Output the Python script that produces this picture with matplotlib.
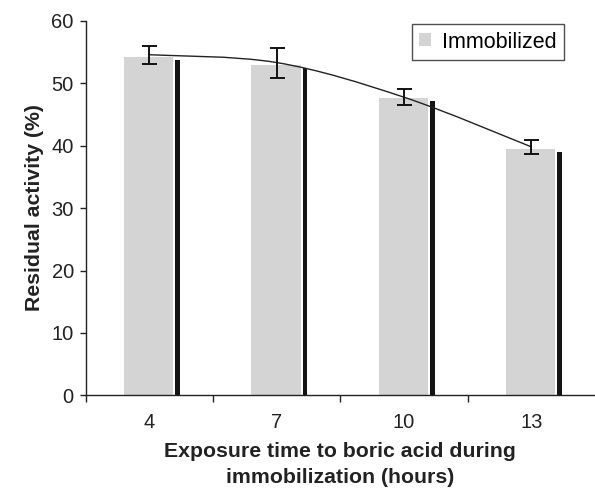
import numpy as np
import matplotlib.pyplot as plt
from matplotlib.path import Path
from matplotlib.patches import PathPatch, Patch

plt.rcParams['font.family'] = ['Liberation Sans', 'DejaVu Sans']

# Exposure times (hours) and measured activities
hours = ['4', '7', '10', '13']
immobilized = [54.2, 52.9, 47.6, 39.4]
dark_series = [53.7, 52.4, 47.1, 38.9]
mean_activity = [54.55, 53.3, 47.75, 39.8]
err_activity = [1.45, 2.4, 1.25, 1.1]

fig = plt.figure(figsize=(5.95, 4.91), dpi=100)
ax = fig.add_axes([85.6 / 595, 95.6 / 491, 1 - 85.6 / 595, (395.4 - 20.7) / 491])

x = np.arange(len(hours))
ax.bar(x - 0.005, immobilized, width=0.385, color='#d3d4d3', edgecolor='none', zorder=2)
ax.bar(x + 0.222, dark_series, width=0.037, color='#141414', edgecolor='none', zorder=2)

# smoothed line through the means (Catmull-Rom as cubic Bezier segments)
pts = np.column_stack([x, mean_activity]).astype(float)
ext = np.vstack([pts[0], pts, pts[-1]])
verts = [tuple(pts[0])]
codes = [Path.MOVETO]
for i in range(len(pts) - 1):
    p0, p1, p2, p3 = ext[i], ext[i + 1], ext[i + 2], ext[i + 3]
    verts += [tuple(p1 + (p2 - p0) / 6), tuple(p2 - (p3 - p1) / 6), tuple(p2)]
    codes += [Path.CURVE4] * 3
ax.add_patch(PathPatch(Path(verts, codes), facecolor='none', edgecolor='#222222',
                       lw=1.0, zorder=3))

ax.errorbar(x, mean_activity, yerr=err_activity, fmt='none', ecolor='#111111',
            elinewidth=1.4, capsize=5.4, capthick=1.4, zorder=4)

ax.set_xlim(-0.5, 3.5)
ax.set_ylim(0, 60)
ax.set_yticks(range(0, 61, 10))
ax.set_xticks([-0.5, 0.5, 1.5, 2.5])
ax.set_xticklabels([])
ax.set_xticks(x, minor=True)
ax.set_xticklabels(hours, minor=True)
ax.tick_params(axis='x', which='major', direction='out', length=5, width=1, color='#222222')
ax.tick_params(axis='x', which='minor', length=0, pad=13, labelsize=14.5, labelcolor='#222222')
ax.tick_params(axis='y', direction='out', length=4.5, width=1, pad=4, labelsize=14.5,
               color='#222222', labelcolor='#222222')

for side in ['top', 'right']:
    ax.spines[side].set_visible(False)
for side in ['left', 'bottom']:
    ax.spines[side].set_color('#222222')
    ax.spines[side].set_linewidth(1.0)

ax.set_ylabel('Residual activity (%)', fontsize=15.3, fontweight='bold', color='#222222',
              labelpad=5)
ax.set_xlabel('Exposure time to boric acid during\nimmobilization (hours)', fontsize=15.3,
              fontweight='bold', color='#222222', linespacing=1.45, labelpad=7)

handle = Patch(facecolor='#d3d4d3', edgecolor='none', label='Immobilized')
leg = ax.legend(handles=[handle], loc='upper right', bbox_to_anchor=(564 / 595, 1 - 24 / 491),
                bbox_transform=fig.transFigure, borderaxespad=0, fontsize=15.5, frameon=True,
                fancybox=False, handlelength=0.55, handleheight=0.55, handletextpad=0.5,
                borderpad=0.35)
leg.get_frame().set_edgecolor('#222222')
leg.get_frame().set_linewidth(1.0)

fig.savefig('out.png', dpi=100)
